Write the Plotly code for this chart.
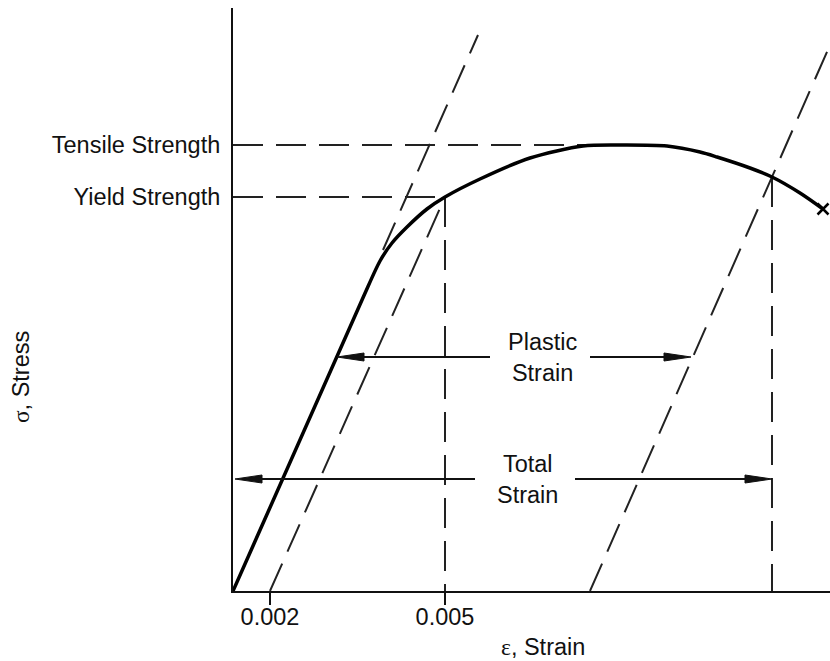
import plotly.graph_objects as go

# Schematic stress-strain diagram; units are arbitrary schematic units
# (x: strain axis, y: stress axis)
curve_strain = [0, 129, 147, 159, 174, 194, 212, 247, 297, 350, 387, 434, 467, 484, 517, 539, 567, 590]
curve_stress = [0, 291, 330, 348, 364, 382, 394, 412, 433, 445, 446, 445, 439, 434, 423, 414, 398, 382]

strain_tick_pos = [37, 212]
strain_tick_labels = ["0.002", "0.005"]
stress_level_pos = [446, 394]
stress_level_labels = ["Tensile Strength", "Yield Strength"]

offset_line_x = [37, 212]
offset_line_y = [0, 394]
elastic_ext_x = [150, 245]
elastic_ext_y = [341, 556]
unload_x = [357, 597]
unload_y = [0, 546]

yield_pt = (212, 394)
tensile_pt = (387, 446)
total_pt = (539, 414)
fracture_pt = (590, 382)

plastic_arrow = dict(y=234, x0=104, x1=458, gap0=257, gap1=357, tx=309, label="Plastic<br>Strain")
total_arrow = dict(y=112, x0=2, x1=539, gap0=242, gap1=342, tx=294, label="Total<br>Strain")

X_MAX, Y_MAX = 597, 583
INK = "#111111"
DASH_COL = "#222222"
DASH = "30px,13px"
FONT = "Liberation Sans, Arial, sans-serif"
FS = 23.5

fig = go.Figure()

def dashed(xs, ys):
    fig.add_trace(go.Scatter(x=xs, y=ys, mode="lines",
                             line=dict(color=DASH_COL, width=2, dash=DASH),
                             hoverinfo="skip", showlegend=False))

# horizontal reference lines
dashed([0, tensile_pt[0]], [tensile_pt[1], tensile_pt[1]])
dashed([0, yield_pt[0]], [yield_pt[1], yield_pt[1]])
# vertical drops
dashed([yield_pt[0], yield_pt[0]], [yield_pt[1], 0])
dashed([total_pt[0], total_pt[0]], [total_pt[1], 0])
# offset, elastic extension and unloading lines
dashed(offset_line_x, offset_line_y)
dashed(elastic_ext_x, elastic_ext_y)
dashed(unload_x, unload_y)

# main curve
fig.add_trace(go.Scatter(x=curve_strain, y=curve_stress, mode="lines",
                         line=dict(color="#000000", width=3.5, shape="spline", smoothing=0.8),
                         hoverinfo="skip", showlegend=False))
# fracture mark
fig.add_trace(go.Scatter(x=[fracture_pt[0]], y=[fracture_pt[1]], mode="markers",
                         marker=dict(symbol="x-thin", size=11, line=dict(color="#000000", width=2.5)),
                         hoverinfo="skip", showlegend=False))

HEAD_L, HEAD_W = 27, 8

def arrow(a):
    y = a["y"]
    for xs in ([a["x0"] + HEAD_L, a["gap0"]], [a["gap1"], a["x1"] - HEAD_L]):
        fig.add_trace(go.Scatter(x=xs, y=[y, y], mode="lines",
                                 line=dict(color=INK, width=2),
                                 hoverinfo="skip", showlegend=False))
    for tip, d in ((a["x0"], 1), (a["x1"], -1)):
        fig.add_trace(go.Scatter(x=[tip, tip + d * HEAD_L, tip + d * HEAD_L, tip],
                                 y=[y, y + HEAD_W / 2, y - HEAD_W / 2, y],
                                 mode="lines", fill="toself", fillcolor=INK,
                                 line=dict(color=INK, width=1),
                                 hoverinfo="skip", showlegend=False))
    fig.add_annotation(x=a["tx"], y=y, text=a["label"], showarrow=False,
                       font=dict(family=FONT, size=FS, color=INK),
                       xanchor="center", yanchor="middle", align="center")

arrow(plastic_arrow)
arrow(total_arrow)

fig.update_xaxes(range=[0, X_MAX], showline=True, linecolor=INK, linewidth=2,
                 showgrid=False, zeroline=False,
                 tickmode="array", tickvals=strain_tick_pos, ticktext=strain_tick_labels,
                 ticks="outside", ticklen=12, tickwidth=2, tickcolor=INK,
                 tickfont=dict(family=FONT, size=FS, color=INK), ticklabelstandoff=-8)
fig.update_yaxes(range=[0, Y_MAX], showline=True, linecolor=INK, linewidth=2,
                 showgrid=False, zeroline=False,
                 tickmode="array", tickvals=stress_level_pos, ticktext=stress_level_labels,
                 ticks="", tickfont=dict(family=FONT, size=FS, color=INK), ticklabelstandoff=6)

fig.add_annotation(xref="paper", yref="paper", x=0.52, y=-56 / Y_MAX, yanchor="middle",
                   text='<span style="font-family:Liberation Serif">ε</span>, Strain',
                   showarrow=False, font=dict(family=FONT, size=FS, color=INK))
fig.add_annotation(xref="paper", yref="y", x=-0.355, y=214, xanchor="center", textangle=-90,
                   text='<span style="font-family:Liberation Serif">σ</span>, Stress',
                   showarrow=False, font=dict(family=FONT, size=FS, color=INK))

fig.update_layout(width=830, height=661, margin=dict(l=233, r=0, t=8, b=70),
                  paper_bgcolor="white", plot_bgcolor="white", showlegend=False)

fig.write_html("out.html")
